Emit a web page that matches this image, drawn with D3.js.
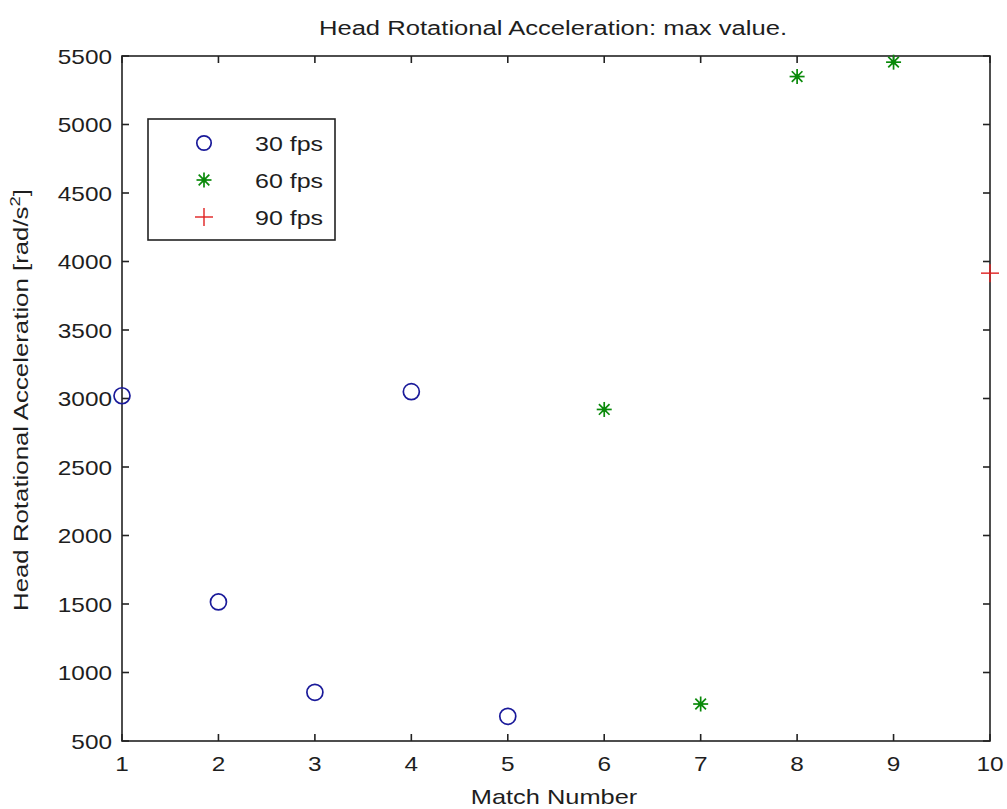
<!DOCTYPE html>
<html><head><meta charset="utf-8">
<script src="https://cdn.jsdelivr.net/npm/d3@7"></script>
<style>body{margin:0;background:#fff}text{font-family:"Liberation Sans",Arial,sans-serif;fill:#1e1e1e}</style>
</head><body><svg id="c" width="1007" height="809"></svg>
<script>
const matches30 = [1, 2, 3, 4, 5];
const values30 = [3020, 1515, 855, 3050, 680];
const matches60 = [6, 7, 8, 9];
const values60 = [2920, 770, 5350, 5455];
const matches90 = [10];
const values90 = [3915];
const xTicks = [1,2,3,4,5,6,7,8,9,10];
const yTicks = [500,1000,1500,2000,2500,3000,3500,4000,4500,5000,5500];
const legendLabels = ["30 fps", "60 fps", "90 fps"];

const svg = d3.select("#c");
const L = 122, R = 990, T = 56, B = 741;
const x = d3.scaleLinear().domain([1,10]).range([L,R]);
const y = d3.scaleLinear().domain([500,5500]).range([B,T]);
const sx = 1.2;

svg.append("rect").attr("x",L).attr("y",T).attr("width",R-L).attr("height",B-T)
  .attr("fill","none").attr("stroke","#222").attr("stroke-width",1.6);
const tl = 7;
const g = svg.append("g").attr("stroke","#222").attr("stroke-width",1.6);
xTicks.forEach(v=>{
  g.append("line").attr("x1",x(v)).attr("x2",x(v)).attr("y1",B).attr("y2",B-tl);
  g.append("line").attr("x1",x(v)).attr("x2",x(v)).attr("y1",T).attr("y2",T+tl);
});
yTicks.forEach(v=>{
  g.append("line").attr("x1",L).attr("x2",L+tl).attr("y1",y(v)).attr("y2",y(v));
  g.append("line").attr("x1",R).attr("x2",R-tl).attr("y1",y(v)).attr("y2",y(v));
});
function txt(px,py,s,anchor,size,scale){
  return svg.append("text").attr("transform",`translate(${px},${py}) scale(${scale||sx},1)`)
    .attr("text-anchor",anchor).attr("font-size",size).text(s);
}
xTicks.forEach(v=>txt(x(v),771,String(v),"middle",21,1.16));
yTicks.forEach(v=>txt(L-10,y(v)+7.5,String(v),"end",21,1.16));
txt(553,35,"Head Rotational Acceleration: max value.","middle",21,1.22);
txt(554,804,"Match Number","middle",21,1.21);
const yl = svg.append("text").attr("transform",`translate(28,400) rotate(-90) scale(1.23,1)`)
  .attr("text-anchor","middle").attr("font-size",21);
yl.append("tspan").text("Head Rotational Acceleration [rad/s");
yl.append("tspan").attr("dy",-8).attr("font-size",15).text("2");
yl.append("tspan").attr("dy",8).text("]");

const blue="#1a1a9a", green="#0a8a0a", red="#e02020";
function circle(cx,cy,r){svg.append("circle").attr("cx",cx).attr("cy",cy).attr("r",r||8).attr("fill","none").attr("stroke",blue).attr("stroke-width",1.7);}
function star(cx,cy){
  const s=7.5, d=5.3;
  const p=svg.append("g").attr("stroke",green).attr("stroke-width",1.7);
  p.append("line").attr("x1",cx-s).attr("x2",cx+s).attr("y1",cy).attr("y2",cy);
  p.append("line").attr("x1",cx).attr("x2",cx).attr("y1",cy-s).attr("y2",cy+s);
  p.append("line").attr("x1",cx-d).attr("x2",cx+d).attr("y1",cy-d).attr("y2",cy+d);
  p.append("line").attr("x1",cx-d).attr("x2",cx+d).attr("y1",cy+d).attr("y2",cy-d);
  svg.append("circle").attr("cx",cx).attr("cy",cy).attr("r",2.5).attr("fill",green);
}
function plus(cx,cy){
  const s=9;
  const p=svg.append("g").attr("stroke",red).attr("stroke-width",1.4);
  p.append("line").attr("x1",cx-s).attr("x2",cx+s).attr("y1",cy).attr("y2",cy);
  p.append("line").attr("x1",cx).attr("x2",cx).attr("y1",cy-s).attr("y2",cy+s);
}
matches30.forEach((m,i)=>circle(x(m),y(values30[i])));
matches60.forEach((m,i)=>star(x(m),y(values60[i])));
matches90.forEach((m,i)=>plus(x(m),y(values90[i])));

svg.append("rect").attr("x",148).attr("y",119).attr("width",187).attr("height",121)
  .attr("fill","#fff").attr("stroke","#222").attr("stroke-width",1.6);
const ly=[143,180,217];
circle(204,ly[0],7.2); star(204,ly[1]); plus(204,ly[2]);
legendLabels.forEach((s,i)=>txt(255,ly[i]+7.5,s,"start",21,1.19));
</script></body></html>
